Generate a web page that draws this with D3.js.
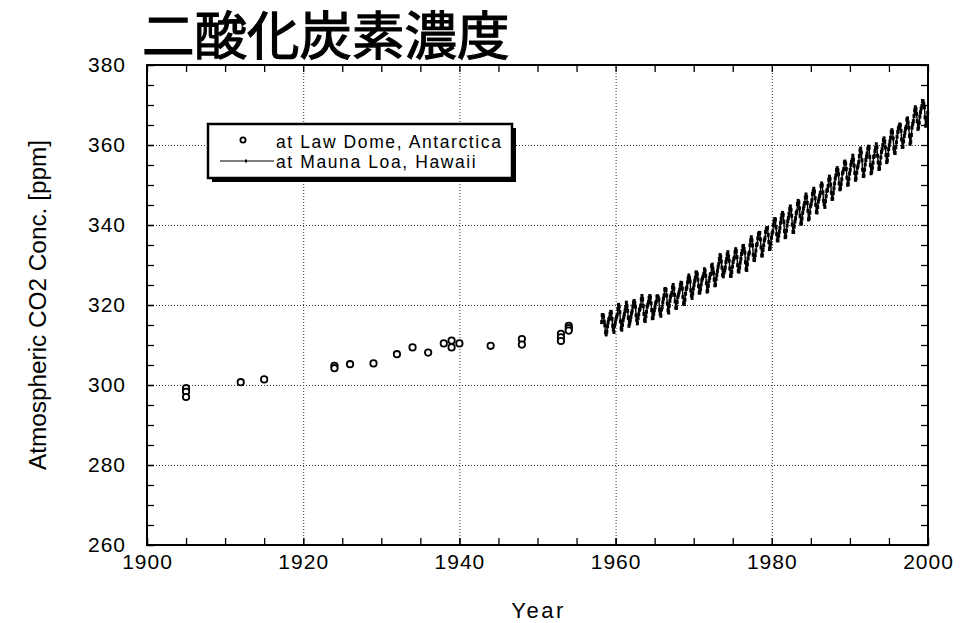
<!DOCTYPE html>
<html>
<head>
<meta charset="utf-8">
<script src="https://cdn.jsdelivr.net/npm/d3@7"></script>
<style>
  body { margin: 0; background: #fff; }
  svg { display: block; }
</style>
</head>
<body>
<svg id="chart" width="975" height="623"></svg>
<script>
// Ice-core samples from Law Dome, Antarctica
const lawDomeYears = [1905, 1905, 1905, 1912, 1915, 1924, 1924, 1926, 1929, 1932, 1934, 1936,
  1938, 1939, 1939, 1940, 1944, 1948, 1948, 1953, 1953, 1953, 1954, 1954, 1954];
const lawDomePpm = [299.2, 298.3, 297.0, 300.7, 301.4, 304.8, 304.2, 305.2, 305.4, 307.7, 309.4, 308.1,
  310.4, 311.1, 309.4, 310.4, 309.8, 311.5, 310.1, 312.8, 311.9, 311.0, 314.8, 314.2, 313.6];

// Monthly means at Mauna Loa, Hawaii, from March 1958 to December 1999
const maunaLoaStartYear = 1958;
const maunaLoaStartMonth = 3;
const maunaLoaPpm = [
  315.71, 317.45, 317.50, 317.10, 315.86, 314.93, 313.20, 312.66, 313.33, 314.67,
  315.62, 316.38, 316.71, 317.72, 318.29, 318.15, 316.54, 314.80, 313.84, 313.26, 314.80, 315.58,
  316.43, 316.97, 317.58, 319.02, 320.03, 319.59, 318.18, 315.91, 314.16, 313.83, 315.00, 316.19,
  316.93, 317.70, 318.54, 319.48, 320.58, 319.77, 318.57, 316.79, 314.80, 315.38, 316.10, 317.01,
  317.94, 318.56, 319.68, 320.63, 321.01, 320.55, 319.58, 317.40, 316.26, 315.42, 316.69, 317.69,
  318.74, 319.08, 319.86, 321.39, 322.25, 321.47, 319.74, 317.77, 316.21, 315.99, 317.12, 318.31,
  319.57, 320.07, 320.73, 321.77, 322.25, 321.89, 320.44, 318.70, 316.70, 316.79, 317.79, 318.71,
  319.44, 320.44, 320.89, 322.13, 322.16, 321.87, 321.39, 318.81, 317.81, 317.30, 318.87, 319.42,
  320.62, 321.59, 322.39, 323.87, 324.01, 323.75, 322.39, 320.37, 318.64, 318.10, 319.79, 321.08,
  322.07, 322.50, 323.04, 324.42, 325.00, 324.09, 322.55, 320.92, 319.31, 319.31, 320.72, 321.96,
  322.57, 323.15, 323.89, 325.02, 325.57, 325.36, 324.14, 322.03, 320.41, 320.25, 321.31, 322.84,
  324.00, 324.42, 325.64, 326.66, 327.34, 326.76, 325.88, 323.67, 322.38, 321.78, 322.85, 324.11,
  325.03, 325.99, 326.87, 328.13, 328.07, 327.66, 326.35, 324.69, 323.10, 323.16, 323.98, 325.13,
  326.17, 326.68, 327.18, 327.78, 328.92, 328.57, 327.34, 325.46, 323.36, 323.57, 324.80, 326.01,
  326.77, 327.63, 327.75, 329.72, 330.07, 329.09, 328.05, 326.32, 324.93, 325.06, 326.50, 327.55,
  328.54, 329.56, 330.30, 331.50, 332.48, 332.07, 330.87, 329.31, 327.51, 327.18, 328.16, 328.64,
  329.35, 330.71, 331.48, 332.65, 333.20, 332.16, 331.07, 329.12, 327.32, 327.28, 328.30, 329.58,
  330.73, 331.46, 331.90, 333.17, 333.94, 333.45, 331.97, 329.95, 328.50, 328.34, 329.37, 330.58,
  331.59, 332.75, 333.52, 334.64, 334.77, 334.00, 333.06, 330.68, 328.95, 328.75, 330.15, 331.62,
  332.66, 333.13, 334.95, 336.13, 336.93, 336.17, 334.88, 332.56, 331.29, 331.27, 332.41, 333.60,
  334.95, 335.25, 336.66, 337.69, 338.03, 338.01, 336.41, 334.41, 332.37, 332.41, 333.75, 334.90,
  336.14, 336.69, 338.27, 338.95, 339.21, 339.26, 337.54, 335.75, 333.98, 334.19, 335.31, 336.81,
  337.90, 338.34, 340.01, 340.93, 341.48, 341.33, 339.40, 337.70, 336.19, 336.15, 337.27, 338.32,
  339.29, 340.55, 341.61, 342.53, 343.03, 342.54, 340.78, 338.44, 336.95, 337.08, 338.58, 339.88,
  340.96, 341.73, 342.81, 343.97, 344.63, 343.79, 342.32, 340.09, 338.28, 338.29, 339.60, 340.90,
  341.68, 342.90, 343.33, 345.25, 346.03, 345.63, 344.19, 342.27, 340.35, 340.38, 341.59, 343.05,
  344.10, 344.79, 345.52, 346.84, 347.63, 346.97, 345.53, 343.55, 341.40, 341.67, 343.10, 344.70,
  345.21, 346.16, 347.74, 348.34, 349.06, 348.38, 346.72, 345.02, 343.27, 343.13, 344.49, 345.88,
  346.56, 347.28, 348.01, 349.77, 350.38, 349.93, 348.16, 346.08, 345.22, 344.51, 345.93, 347.21,
  348.52, 348.73, 349.73, 351.31, 352.09, 351.53, 350.11, 348.08, 346.52, 346.59, 347.96, 349.16,
  350.39, 351.64, 352.41, 353.69, 354.21, 353.72, 352.69, 350.40, 348.92, 349.13, 350.20, 351.41,
  352.91, 353.27, 353.96, 355.64, 355.86, 355.37, 353.99, 351.81, 350.05, 350.25, 351.49, 352.85,
  353.80, 355.04, 355.73, 356.32, 357.32, 356.34, 354.84, 353.01, 351.31, 351.62, 353.07, 354.33,
  354.84, 355.73, 357.23, 358.66, 359.13, 358.13, 356.19, 353.85, 352.25, 352.35, 353.81, 355.12,
  356.25, 357.11, 357.86, 359.09, 359.59, 359.33, 357.01, 354.94, 352.96, 353.32, 354.32, 355.57,
  357.00, 357.31, 358.47, 359.27, 360.19, 359.52, 357.33, 355.64, 354.03, 354.12, 355.41, 356.91,
  358.24, 358.92, 359.99, 361.23, 361.65, 360.81, 359.38, 357.46, 355.73, 356.08, 357.53, 358.98,
  359.92, 360.86, 361.83, 363.30, 363.69, 363.19, 361.64, 359.12, 358.17, 357.99, 359.45, 360.68,
  362.07, 363.24, 364.17, 364.57, 365.13, 364.92, 363.55, 361.38, 359.54, 359.58, 360.89, 362.24,
  363.09, 364.03, 364.51, 366.35, 366.64, 365.59, 364.31, 362.25, 360.29, 360.82, 362.49, 364.38,
  365.27, 365.98, 367.24, 368.66, 369.42, 368.99, 367.82, 365.95, 364.02, 364.40, 365.52, 367.13,
  368.18, 369.07, 369.68, 370.99, 370.96, 370.30, 369.45, 366.90, 364.81, 365.37, 366.72, 368.10
];

// Axis ticks
const xMajorTicks = [1900, 1920, 1940, 1960, 1980, 2000];
const xMinorTicks = d3.range(1900, 2001, 5);
const yMajorTicks = [260, 280, 300, 320, 340, 360, 380];
const yMinorTicks = d3.range(260, 381, 5);

const titleText = "二酸化炭素濃度";
const xTitle = "Year";
const yTitle = "Atmospheric CO2 Conc. [ppm]";
const legendLabels = ["at Law Dome, Antarctica", "at Mauna Loa, Hawaii"];

const W = 975, H = 623;
const margin = { top: 65, right: 47, bottom: 78, left: 147 };
const iw = W - margin.left - margin.right;
const ih = H - margin.top - margin.bottom;

const svg = d3.select("#chart");
const g = svg.append("g").attr("transform", `translate(${margin.left},${margin.top})`);

const x = d3.scaleLinear().domain([1900, 2000]).range([0, iw]);
const y = d3.scaleLinear().domain([260, 380]).range([ih, 0]);

const tickFont = "'Liberation Sans', Arial, sans-serif";

// Dotted grid at the major ticks
const gridX = g.append("g").attr("transform", `translate(0,${ih})`)
  .call(d3.axisBottom(x).tickValues(xMajorTicks.slice(1, -1)).tickSize(-ih).tickFormat(""));
const gridY = g.append("g")
  .call(d3.axisLeft(y).tickValues(yMajorTicks.slice(1, -1)).tickSize(-iw).tickFormat(""));
[gridX, gridY].forEach(s => {
  s.select(".domain").remove();
  s.selectAll("line").attr("stroke", "#333").attr("stroke-width", 1).attr("stroke-dasharray", "1,2");
});

// Inward ticks on all four sides
const tickLen = 7;
function styleAxis(s) {
  s.select(".domain").remove();
  s.selectAll("line").attr("stroke", "#000").attr("stroke-width", 1.3);
  s.selectAll("text").attr("font-family", tickFont).attr("font-size", 21)
    .attr("letter-spacing", 1).attr("fill", "#000");
}
g.append("g").attr("transform", `translate(0,${ih})`)
  .call(d3.axisBottom(x).tickValues(xMinorTicks).tickSize(-tickLen).tickFormat("")).call(styleAxis);
g.append("g").attr("transform", `translate(0,${ih})`)
  .call(d3.axisBottom(x).tickValues(xMajorTicks).tickSize(-tickLen).tickPadding(9).tickFormat(d3.format("d")))
  .call(styleAxis);
g.append("g")
  .call(d3.axisTop(x).tickValues(xMinorTicks).tickSize(-tickLen).tickFormat("")).call(styleAxis);
g.append("g")
  .call(d3.axisLeft(y).tickValues(yMinorTicks).tickSize(-tickLen).tickFormat("")).call(styleAxis);
g.append("g")
  .call(d3.axisLeft(y).tickValues(yMajorTicks).tickSize(-tickLen).tickPadding(21).tickFormat(d3.format("d")))
  .call(styleAxis);
g.append("g").attr("transform", `translate(${iw},0)`)
  .call(d3.axisRight(y).tickValues(yMinorTicks).tickSize(-tickLen).tickFormat("")).call(styleAxis);

// Frame
g.append("rect").attr("x", 0).attr("y", 0).attr("width", iw).attr("height", ih)
  .attr("fill", "none").attr("stroke", "#000").attr("stroke-width", 2);

// Mauna Loa monthly series
const mlData = maunaLoaPpm.map((v, i) => {
  const m = maunaLoaStartMonth - 1 + i;
  return { t: maunaLoaStartYear + (m + 0.5) / 12, v };
});
g.append("path").datum(mlData)
  .attr("fill", "none").attr("stroke", "#000").attr("stroke-width", 1.4)
  .attr("d", d3.line().x(d => x(d.t)).y(d => y(d.v)));
g.append("g").selectAll("rect").data(mlData).join("rect")
  .attr("x", d => x(d.t) - 1.5).attr("y", d => y(d.v) - 2)
  .attr("width", 3).attr("height", 4).attr("fill", "#000");

// Law Dome samples
g.append("g").selectAll("circle").data(lawDomeYears.map((yr, i) => ({ yr, v: lawDomePpm[i] })))
  .join("circle")
  .attr("cx", d => x(d.yr)).attr("cy", d => y(d.v)).attr("r", 3.2)
  .attr("fill", "#fff").attr("stroke", "#000").attr("stroke-width", 1.8);

// Legend with drop shadow
const lg = svg.append("g").attr("transform", "translate(208,124)");
const lw = 304, lh = 54;
lg.append("rect").attr("x", 4).attr("y", 4).attr("width", lw).attr("height", lh).attr("fill", "#000");
lg.append("rect").attr("x", 0).attr("y", 0).attr("width", lw).attr("height", lh)
  .attr("fill", "#fff").attr("stroke", "#000").attr("stroke-width", 2.5);
lg.append("circle").attr("cx", 35).attr("cy", 16).attr("r", 2.6)
  .attr("fill", "#fff").attr("stroke", "#000").attr("stroke-width", 1.8);
lg.append("line").attr("x1", 12).attr("x2", 66).attr("y1", 37).attr("y2", 37)
  .attr("stroke", "#000").attr("stroke-width", 1.2);
lg.append("rect").attr("x", 37).attr("y", 35.5).attr("width", 2).attr("height", 3).attr("fill", "#000");
lg.selectAll("text.leg").data(legendLabels).join("text").attr("class", "leg")
  .attr("x", 68).attr("y", (d, i) => 24 + i * 20)
  .attr("font-family", tickFont).attr("font-size", 17.5).attr("letter-spacing", 1.6)
  .attr("fill", "#000").text(d => d);

// Title
svg.append("text").attr("x", 142).attr("y", 55)
  .attr("font-family", "'Noto Sans CJK JP', sans-serif").attr("font-weight", 400)
  .attr("stroke", "#000").attr("stroke-width", 1.2)
  .attr("font-size", 52.5).attr("fill", "#000").text(titleText);

// Axis titles
svg.append("text").attr("x", margin.left + iw / 2 + 1).attr("y", 618)
  .attr("text-anchor", "middle").attr("font-family", tickFont).attr("font-size", 22)
  .attr("letter-spacing", 2.5).attr("fill", "#000").text(xTitle);
svg.append("text").attr("transform", `translate(46,${margin.top + ih / 2}) rotate(-90)`)
  .attr("text-anchor", "middle").attr("font-family", "'Liberation Sans Narrow', 'Liberation Sans', sans-serif")
  .attr("font-size", 23).attr("textLength", 330).attr("lengthAdjust", "spacingAndGlyphs")
  .attr("fill", "#000").text(yTitle);
</script>
</body>
</html>
